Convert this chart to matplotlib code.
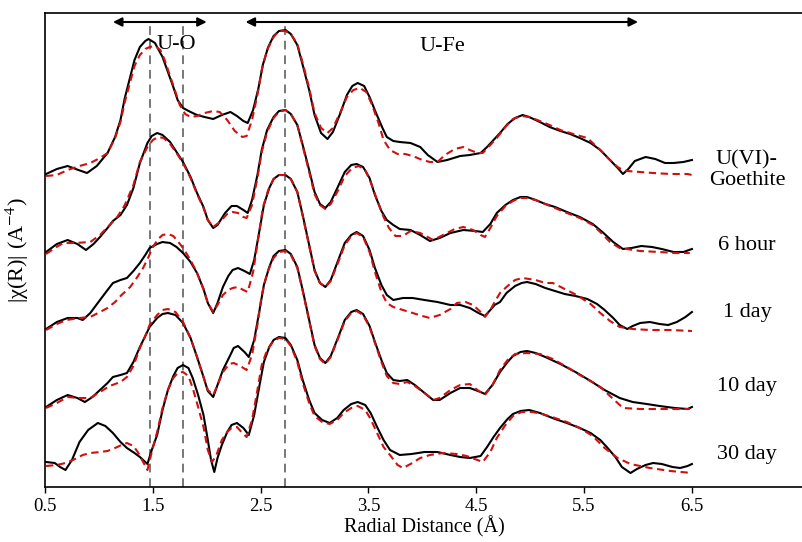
import matplotlib
matplotlib.use("Agg")
import matplotlib.pyplot as plt

plt.rcParams['font.family'] = ['Liberation Serif', 'DejaVu Serif']
plt.rcParams['mathtext.fontset'] = 'stix'

# ---------------- data (R in Angstrom, stacked |chi(R)|) ----------------
sample_labels = ["U(VI)-\nGoethite", "6 hour", "1 day", "10 day", "30 day"]
label_y = [3.17, 2.42, 1.74, 1.01, 0.32]

r_goe = [0.51, 0.61, 0.71, 0.81, 0.89, 0.98, 1.08, 1.15, 1.20, 1.24, 1.29, 1.33, 1.38, 1.43, 1.46, 1.52, 1.59, 1.64, 1.69, 1.73,
         1.78, 1.85, 1.91, 1.98, 2.06, 2.14, 2.22, 2.28, 2.34, 2.38, 2.43, 2.48, 2.52, 2.57, 2.62, 2.67, 2.73, 2.78, 2.84, 2.89,
         2.95, 3.00, 3.06, 3.12, 3.17, 3.24, 3.30, 3.35, 3.40, 3.46, 3.51, 3.57, 3.63, 3.67, 3.73, 3.79, 3.89, 3.98, 4.05, 4.14,
         4.23, 4.35, 4.44, 4.54, 4.60, 4.66, 4.72, 4.79, 4.86, 4.93, 4.99, 5.09, 5.18, 5.28, 5.37, 5.46, 5.56, 5.65, 5.74, 5.82,
         5.86, 5.91, 5.97, 6.07, 6.16, 6.25, 6.33, 6.42, 6.50]
y_goe = [3.13, 3.18, 3.21, 3.17, 3.14, 3.21, 3.34, 3.50, 3.67, 3.89, 4.10, 4.27, 4.40, 4.46, 4.48, 4.44, 4.30, 4.15, 4.00, 3.87,
         3.79, 3.75, 3.72, 3.70, 3.68, 3.72, 3.75, 3.71, 3.66, 3.64, 3.77, 3.99, 4.22, 4.40, 4.51, 4.56, 4.57, 4.53, 4.42, 4.22,
         3.97, 3.72, 3.54, 3.48, 3.55, 3.74, 3.92, 4.01, 4.04, 4.01, 3.90, 3.74, 3.59, 3.50, 3.46, 3.45, 3.44, 3.40, 3.32, 3.25,
         3.27, 3.31, 3.32, 3.34, 3.40, 3.47, 3.54, 3.63, 3.69, 3.72, 3.70, 3.65, 3.60, 3.56, 3.53, 3.49, 3.44, 3.37, 3.27, 3.18,
         3.13, 3.18, 3.26, 3.30, 3.28, 3.24, 3.24, 3.25, 3.27]
r_goe_fit = [0.51, 0.61, 0.71, 0.82, 0.92, 1.01, 1.08, 1.15, 1.20, 1.24, 1.29, 1.33, 1.38, 1.43, 1.47, 1.52, 1.57, 1.61, 1.66, 1.71,
             1.75, 1.80, 1.85, 1.91, 1.98, 2.06, 2.12, 2.19, 2.26, 2.33, 2.37, 2.42, 2.47, 2.51, 2.56, 2.62, 2.67, 2.73, 2.78, 2.84,
             2.89, 2.95, 3.00, 3.06, 3.12, 3.17, 3.24, 3.30, 3.36, 3.42, 3.48, 3.53, 3.59, 3.64, 3.70, 3.77, 3.84, 3.91, 4.00, 4.07,
             4.14, 4.21, 4.30, 4.38, 4.44, 4.51, 4.56, 4.63, 4.69, 4.77, 4.84, 4.92, 4.99, 5.09, 5.18, 5.28, 5.34, 5.43, 5.53, 5.60,
             5.65, 5.72, 5.81, 5.86, 5.90, 6.02, 6.14, 6.30, 6.46, 6.50]
y_goe_fit = [3.11, 3.12, 3.17, 3.21, 3.24, 3.29, 3.34, 3.49, 3.65, 3.85, 4.05, 4.21, 4.32, 4.38, 4.40, 4.41, 4.37, 4.27, 4.11, 3.95,
             3.82, 3.73, 3.70, 3.71, 3.74, 3.76, 3.75, 3.67, 3.56, 3.50, 3.51, 3.67, 3.92, 4.17, 4.37, 4.50, 4.56, 4.56, 4.53, 4.43,
             4.24, 3.99, 3.74, 3.59, 3.54, 3.59, 3.75, 3.90, 3.97, 3.99, 3.95, 3.83, 3.65, 3.47, 3.37, 3.33, 3.33, 3.31, 3.27, 3.25,
             3.25, 3.32, 3.38, 3.40, 3.37, 3.34, 3.34, 3.42, 3.49, 3.60, 3.68, 3.71, 3.70, 3.66, 3.62, 3.57, 3.55, 3.52, 3.49, 3.42,
             3.37, 3.29, 3.20, 3.17, 3.16, 3.15, 3.14, 3.13, 3.13, 3.12]

r_6h = [0.51, 0.61, 0.71, 0.80, 0.88, 0.95, 1.01, 1.08, 1.13, 1.20, 1.26, 1.32, 1.38, 1.45, 1.49, 1.54, 1.59, 1.66, 1.72, 1.78,
        1.85, 1.91, 1.97, 2.01, 2.06, 2.10, 2.17, 2.23, 2.28, 2.34, 2.38, 2.42, 2.47, 2.51, 2.56, 2.62, 2.67, 2.73, 2.78, 2.84,
        2.89, 2.95, 3.00, 3.05, 3.10, 3.15, 3.22, 3.28, 3.34, 3.39, 3.45, 3.51, 3.56, 3.62, 3.67, 3.73, 3.79, 3.89, 3.98, 4.07,
        4.16, 4.26, 4.38, 4.49, 4.56, 4.63, 4.69, 4.77, 4.84, 4.91, 4.97, 5.05, 5.14, 5.23, 5.34, 5.46, 5.58, 5.68, 5.77, 5.86,
        5.94, 6.03, 6.13, 6.22, 6.33, 6.42, 6.50]
y_6h = [2.35, 2.43, 2.47, 2.43, 2.37, 2.43, 2.50, 2.59, 2.66, 2.72, 2.82, 2.99, 3.24, 3.44, 3.51, 3.54, 3.52, 3.45, 3.35, 3.25,
        3.10, 2.94, 2.80, 2.67, 2.59, 2.62, 2.74, 2.81, 2.81, 2.77, 2.74, 2.87, 3.12, 3.37, 3.57, 3.70, 3.76, 3.77, 3.73, 3.62,
        3.42, 3.17, 2.95, 2.83, 2.79, 2.85, 3.01, 3.15, 3.22, 3.23, 3.20, 3.09, 2.92, 2.76, 2.67, 2.62, 2.58, 2.57, 2.52, 2.46,
        2.49, 2.54, 2.57, 2.56, 2.55, 2.63, 2.74, 2.82, 2.87, 2.90, 2.90, 2.87, 2.83, 2.80, 2.75, 2.70, 2.63, 2.54, 2.45, 2.38,
        2.39, 2.41, 2.40, 2.38, 2.35, 2.35, 2.38]
r_6h_fit = [0.51, 0.59, 0.67, 0.78, 0.92, 1.01, 1.10, 1.17, 1.24, 1.32, 1.38, 1.45, 1.50, 1.55, 1.60, 1.66, 1.72, 1.78, 1.85, 1.91,
            1.97, 2.01, 2.06, 2.12, 2.19, 2.24, 2.29, 2.34, 2.37, 2.42, 2.47, 2.51, 2.56, 2.62, 2.67, 2.73, 2.78, 2.84, 2.89, 2.95,
            3.00, 3.05, 3.10, 3.15, 3.22, 3.28, 3.35, 3.41, 3.47, 3.52, 3.58, 3.64, 3.69, 3.75, 3.82, 3.89, 3.98, 4.10, 4.21, 4.30,
            4.38, 4.47, 4.54, 4.58, 4.63, 4.69, 4.77, 4.84, 4.91, 4.97, 5.05, 5.14, 5.23, 5.34, 5.46, 5.58, 5.65, 5.74, 5.83, 6.02,
            6.20, 6.34, 6.48]
y_6h_fit = [2.33, 2.39, 2.44, 2.44, 2.45, 2.52, 2.62, 2.70, 2.82, 3.02, 3.25, 3.40, 3.47, 3.50, 3.49, 3.43, 3.34, 3.24, 3.09, 2.93,
            2.79, 2.67, 2.60, 2.65, 2.73, 2.75, 2.74, 2.70, 2.69, 2.82, 3.09, 3.35, 3.55, 3.69, 3.75, 3.77, 3.73, 3.62, 3.41, 3.15,
            2.93, 2.82, 2.78, 2.83, 2.97, 3.11, 3.19, 3.21, 3.17, 3.05, 2.87, 2.70, 2.59, 2.51, 2.51, 2.56, 2.54, 2.47, 2.53, 2.58,
            2.60, 2.57, 2.52, 2.50, 2.59, 2.71, 2.81, 2.86, 2.89, 2.89, 2.87, 2.83, 2.79, 2.74, 2.69, 2.62, 2.55, 2.45, 2.39, 2.36,
            2.35, 2.34, 2.34]

r_1d = [0.51, 0.61, 0.71, 0.80, 0.85, 0.92, 1.01, 1.08, 1.13, 1.20, 1.26, 1.32, 1.38, 1.43, 1.47, 1.54, 1.59, 1.66, 1.72, 1.78,
        1.85, 1.91, 1.97, 2.01, 2.06, 2.10, 2.15, 2.20, 2.24, 2.29, 2.35, 2.40, 2.44, 2.49, 2.53, 2.58, 2.62, 2.67, 2.73, 2.78,
        2.84, 2.89, 2.95, 3.00, 3.05, 3.10, 3.15, 3.22, 3.28, 3.34, 3.39, 3.45, 3.51, 3.56, 3.62, 3.67, 3.73, 3.82, 3.91, 4.02,
        4.14, 4.26, 4.35, 4.44, 4.52, 4.58, 4.63, 4.67, 4.72, 4.78, 4.86, 4.92, 4.97, 5.05, 5.14, 5.23, 5.32, 5.42, 5.53, 5.62,
        5.69, 5.77, 5.83, 5.90, 5.95, 6.02, 6.11, 6.20, 6.28, 6.36, 6.44, 6.50]
y_1d = [1.58, 1.65, 1.69, 1.69, 1.67, 1.74, 1.87, 1.97, 2.04, 2.07, 2.09, 2.16, 2.24, 2.32, 2.39, 2.43, 2.45, 2.44, 2.40, 2.34,
        2.25, 2.14, 1.98, 1.84, 1.74, 1.84, 2.00, 2.11, 2.17, 2.19, 2.16, 2.13, 2.27, 2.57, 2.82, 2.99, 3.08, 3.12, 3.12, 3.08,
        2.95, 2.72, 2.42, 2.17, 2.04, 2.00, 2.07, 2.27, 2.44, 2.52, 2.55, 2.51, 2.37, 2.19, 2.02, 1.92, 1.87, 1.89, 1.89, 1.87,
        1.85, 1.82, 1.82, 1.79, 1.74, 1.71, 1.77, 1.82, 1.85, 1.94, 2.01, 2.04, 2.05, 2.03, 1.99, 1.96, 1.93, 1.91, 1.88, 1.83,
        1.77, 1.69, 1.62, 1.58, 1.61, 1.64, 1.65, 1.63, 1.62, 1.65, 1.70, 1.75]
r_1d_fit = [0.51, 0.61, 0.70, 0.82, 0.92, 1.01, 1.08, 1.15, 1.21, 1.29, 1.35, 1.41, 1.46, 1.50, 1.55, 1.59, 1.64, 1.69, 1.73, 1.78,
            1.85, 1.91, 1.97, 2.01, 2.06, 2.10, 2.15, 2.20, 2.24, 2.29, 2.34, 2.38, 2.43, 2.48, 2.52, 2.57, 2.62, 2.67, 2.73, 2.78,
            2.84, 2.89, 2.95, 3.00, 3.05, 3.10, 3.15, 3.22, 3.28, 3.34, 3.39, 3.45, 3.51, 3.56, 3.62, 3.67, 3.73, 3.82, 3.91, 4.00,
            4.07, 4.16, 4.26, 4.32, 4.40, 4.47, 4.54, 4.58, 4.63, 4.67, 4.72, 4.79, 4.86, 4.93, 5.05, 5.14, 5.21, 5.32, 5.43, 5.56,
            5.65, 5.74, 5.83, 5.95, 6.11, 6.30, 6.50]
y_1d_fit = [1.57, 1.63, 1.67, 1.69, 1.70, 1.75, 1.79, 1.85, 1.92, 2.00, 2.09, 2.19, 2.30, 2.40, 2.48, 2.52, 2.53, 2.51, 2.46, 2.39,
            2.27, 2.14, 1.98, 1.84, 1.75, 1.82, 1.92, 1.97, 1.99, 2.00, 1.97, 1.95, 2.15, 2.50, 2.79, 2.97, 3.08, 3.12, 3.12, 3.08,
            2.95, 2.71, 2.41, 2.16, 2.04, 2.00, 2.06, 2.25, 2.42, 2.51, 2.54, 2.50, 2.35, 2.15, 1.95, 1.84, 1.80, 1.77, 1.74, 1.71,
            1.69, 1.72, 1.78, 1.84, 1.85, 1.82, 1.75, 1.70, 1.77, 1.85, 1.94, 2.01, 2.07, 2.09, 2.07, 2.04, 2.04, 1.98, 1.92, 1.83,
            1.74, 1.66, 1.60, 1.58, 1.57, 1.57, 1.56]

r_10d = [0.51, 0.61, 0.71, 0.80, 0.87, 0.94, 1.01, 1.08, 1.13, 1.20, 1.26, 1.32, 1.38, 1.43, 1.47, 1.54, 1.59, 1.64, 1.71, 1.78,
         1.85, 1.91, 1.97, 2.01, 2.06, 2.10, 2.15, 2.21, 2.25, 2.29, 2.35, 2.39, 2.44, 2.49, 2.53, 2.58, 2.62, 2.67, 2.73, 2.78,
         2.84, 2.89, 2.95, 3.00, 3.05, 3.10, 3.15, 3.22, 3.28, 3.34, 3.39, 3.45, 3.51, 3.56, 3.62, 3.67, 3.73, 3.79, 3.86, 3.93,
         4.02, 4.10, 4.16, 4.26, 4.35, 4.44, 4.54, 4.58, 4.65, 4.72, 4.79, 4.84, 4.91, 4.97, 5.05, 5.14, 5.28, 5.42, 5.56, 5.69,
         5.83, 5.95, 6.08, 6.20, 6.34, 6.46, 6.50]
y_10d = [0.80, 0.87, 0.92, 0.89, 0.85, 0.90, 0.97, 1.04, 1.10, 1.12, 1.14, 1.25, 1.40, 1.51, 1.60, 1.69, 1.73, 1.74, 1.72, 1.64,
         1.49, 1.30, 1.10, 0.96, 0.90, 1.02, 1.17, 1.30, 1.39, 1.41, 1.35, 1.30, 1.47, 1.77, 2.02, 2.20, 2.31, 2.36, 2.37, 2.33,
         2.20, 1.97, 1.67, 1.42, 1.29, 1.24, 1.31, 1.50, 1.67, 1.75, 1.77, 1.73, 1.61, 1.45, 1.27, 1.14, 1.07, 1.06, 1.07, 1.02,
         0.94, 0.87, 0.87, 0.94, 0.99, 0.99, 0.95, 0.93, 1.02, 1.15, 1.25, 1.31, 1.35, 1.36, 1.34, 1.30, 1.23, 1.15, 1.06, 0.97,
         0.89, 0.85, 0.83, 0.81, 0.79, 0.78, 0.80]
r_10d_fit = [0.51, 0.61, 0.71, 0.82, 0.92, 1.01, 1.10, 1.20, 1.26, 1.32, 1.38, 1.43, 1.47, 1.54, 1.59, 1.64, 1.71, 1.78, 1.85, 1.91,
             1.97, 2.01, 2.06, 2.10, 2.15, 2.21, 2.25, 2.31, 2.37, 2.42, 2.47, 2.51, 2.56, 2.62, 2.67, 2.73, 2.78, 2.84, 2.89, 2.95,
             3.00, 3.05, 3.10, 3.15, 3.22, 3.28, 3.34, 3.39, 3.45, 3.51, 3.56, 3.62, 3.67, 3.73, 3.79, 3.86, 3.93, 4.02, 4.10, 4.16,
             4.26, 4.35, 4.44, 4.51, 4.58, 4.65, 4.72, 4.79, 4.86, 4.97, 5.09, 5.21, 5.34, 5.46, 5.56, 5.65, 5.76, 5.86, 6.02, 6.20,
             6.34, 6.48]
y_10d_fit = [0.79, 0.84, 0.90, 0.89, 0.89, 0.95, 1.01, 1.05, 1.10, 1.21, 1.39, 1.51, 1.62, 1.72, 1.77, 1.78, 1.75, 1.65, 1.49, 1.30,
             1.10, 0.97, 0.92, 1.02, 1.15, 1.23, 1.24, 1.21, 1.17, 1.32, 1.62, 1.92, 2.14, 2.29, 2.35, 2.36, 2.32, 2.19, 1.96, 1.66,
             1.41, 1.28, 1.23, 1.30, 1.49, 1.66, 1.74, 1.76, 1.72, 1.60, 1.44, 1.25, 1.11, 1.04, 1.03, 1.05, 1.01, 0.94, 0.87, 0.89,
             0.97, 1.02, 1.03, 0.97, 0.92, 1.02, 1.17, 1.27, 1.33, 1.34, 1.33, 1.28, 1.20, 1.12, 1.06, 1.00, 0.89, 0.79, 0.78, 0.78,
             0.78, 0.78]

r_30d = [0.51, 0.59, 0.64, 0.69, 0.75, 0.82, 0.90, 0.99, 1.06, 1.13, 1.20, 1.26, 1.33, 1.38, 1.45, 1.49, 1.54, 1.59, 1.64, 1.69,
         1.73, 1.78, 1.83, 1.87, 1.92, 1.97, 2.01, 2.04, 2.07, 2.10, 2.14, 2.19, 2.23, 2.28, 2.34, 2.39, 2.44, 2.49, 2.53, 2.58,
         2.62, 2.67, 2.73, 2.78, 2.84, 2.89, 2.95, 3.00, 3.07, 3.14, 3.21, 3.27, 3.34, 3.40, 3.47, 3.52, 3.58, 3.64, 3.70, 3.79,
         3.90, 4.02, 4.14, 4.26, 4.35, 4.44, 4.54, 4.60, 4.66, 4.72, 4.79, 4.84, 4.91, 4.99, 5.09, 5.23, 5.34, 5.46, 5.56, 5.65,
         5.71, 5.79, 5.85, 5.93, 5.99, 6.07, 6.14, 6.22, 6.32, 6.39, 6.46, 6.50]
y_30d = [0.25, 0.24, 0.20, 0.17, 0.27, 0.45, 0.57, 0.64, 0.61, 0.54, 0.45, 0.39, 0.34, 0.30, 0.23, 0.37, 0.52, 0.77, 0.97, 1.11,
         1.19, 1.22, 1.19, 1.09, 0.92, 0.72, 0.47, 0.27, 0.15, 0.29, 0.42, 0.55, 0.62, 0.64, 0.59, 0.52, 0.72, 1.02, 1.25, 1.40,
         1.47, 1.50, 1.49, 1.42, 1.27, 1.07, 0.87, 0.74, 0.67, 0.64, 0.69, 0.77, 0.83, 0.85, 0.82, 0.74, 0.60, 0.47, 0.37, 0.32,
         0.33, 0.35, 0.35, 0.32, 0.30, 0.29, 0.31, 0.40, 0.50, 0.59, 0.68, 0.73, 0.76, 0.77, 0.74, 0.68, 0.64, 0.59, 0.54, 0.47,
         0.40, 0.30, 0.20, 0.14, 0.18, 0.22, 0.24, 0.23, 0.20, 0.19, 0.21, 0.23]
r_30d_fit = [0.51, 0.61, 0.69, 0.76, 0.85, 0.92, 1.01, 1.08, 1.15, 1.21, 1.26, 1.32, 1.36, 1.41, 1.45, 1.49, 1.54, 1.59, 1.64, 1.69,
             1.73, 1.78, 1.83, 1.87, 1.92, 1.97, 2.01, 2.05, 2.09, 2.14, 2.19, 2.23, 2.28, 2.33, 2.37, 2.42, 2.47, 2.51, 2.56, 2.62,
             2.67, 2.73, 2.78, 2.84, 2.89, 2.95, 3.00, 3.07, 3.14, 3.21, 3.27, 3.34, 3.40, 3.47, 3.52, 3.58, 3.64, 3.70, 3.77, 3.82,
             3.89, 3.98, 4.07, 4.19, 4.32, 4.41, 4.51, 4.56, 4.63, 4.69, 4.77, 4.84, 4.92, 5.02, 5.11, 5.23, 5.34, 5.46, 5.58, 5.69,
             5.81, 5.93, 6.11, 6.30, 6.50]
y_30d_fit = [0.21, 0.22, 0.24, 0.27, 0.32, 0.34, 0.35, 0.36, 0.39, 0.42, 0.44, 0.41, 0.35, 0.25, 0.17, 0.35, 0.55, 0.79, 0.97, 1.09,
             1.14, 1.15, 1.11, 0.99, 0.80, 0.60, 0.37, 0.25, 0.32, 0.47, 0.55, 0.59, 0.60, 0.54, 0.50, 0.67, 0.97, 1.22, 1.37, 1.46,
             1.49, 1.48, 1.41, 1.25, 1.04, 0.84, 0.71, 0.65, 0.63, 0.67, 0.74, 0.79, 0.81, 0.77, 0.68, 0.54, 0.40, 0.32, 0.22, 0.19,
             0.23, 0.29, 0.32, 0.34, 0.33, 0.31, 0.27, 0.25, 0.35, 0.49, 0.62, 0.71, 0.75, 0.75, 0.73, 0.69, 0.65, 0.59, 0.51, 0.39,
             0.29, 0.23, 0.19, 0.16, 0.14]

data_r = [r_goe, r_6h, r_1d, r_10d, r_30d]
data_y = [y_goe, y_6h, y_1d, y_10d, y_30d]
fit_r = [r_goe_fit, r_6h_fit, r_1d_fit, r_10d_fit, r_30d_fit]
fit_y = [y_goe_fit, y_6h_fit, y_1d_fit, y_10d_fit, y_30d_fit]

ref_lines = [1.47, 1.78, 2.73]
xticks = [0.5, 1.5, 2.5, 3.5, 4.5, 5.5, 6.5]
xtick_labels = ["0.5", "1.5", "2.5", "3.5", "4.5", "5.5", "6.5"]

# ---------------- figure ----------------
fig = plt.figure(figsize=(8.03, 5.42), dpi=100)
ax = fig.add_axes([45 / 803, 55 / 542, 758 / 803, 474 / 542])
ax.set_xlim(0.5, 7.53)
ax.set_ylim(0, 4.74)

for xr in ref_lines:
    ax.plot([xr, xr], [0, 4.66], color='#777777', lw=1.4, ls=(0, (4.5, 3)), zorder=1)

for rr, yy in zip(data_r, data_y):
    ax.plot(rr, yy, color='black', lw=1.5, zorder=3, solid_joinstyle='round')
for rr, yy in zip(fit_r, fit_y):
    ax.plot(rr, yy, color='#d01010', lw=1.5, ls=(0, (3.5, 2.2)), zorder=4)

for lab, ly in zip(sample_labels, label_y):
    ax.text(7.01, ly, lab, ha='center', va='center', fontsize=16, linespacing=1.15)

# arrows and region labels
ax.annotate('', xy=(1.13, 4.65), xytext=(2.00, 4.65),
            arrowprops=dict(arrowstyle='<|-|>', color='black', lw=1.5, mutation_scale=13, shrinkA=0, shrinkB=0))
ax.annotate('', xy=(2.36, 4.65), xytext=(6.00, 4.65),
            arrowprops=dict(arrowstyle='<|-|>', color='black', lw=1.5, mutation_scale=13, shrinkA=0, shrinkB=0))
ax.text(1.72, 4.43, 'U-O', ha='center', va='center', fontsize=16)
ax.text(4.19, 4.41, 'U-Fe', ha='center', va='center', fontsize=16)

ax.set_xticks(xticks)
ax.set_xticklabels(xtick_labels, fontsize=13.5)
ax.set_yticks([])
ax.tick_params(axis='x', direction='out', length=4, width=1, pad=4)
ax.spines['right'].set_visible(False)
for s in ['left', 'top', 'bottom']:
    ax.spines[s].set_linewidth(1.2)

ax.set_xlabel('Radial Distance (Å)', fontsize=14.5, labelpad=1)
ax.set_ylabel('|χ(R)| (A$^{-4}$)', fontsize=16, labelpad=10)

fig.savefig('out.png', dpi=100)
